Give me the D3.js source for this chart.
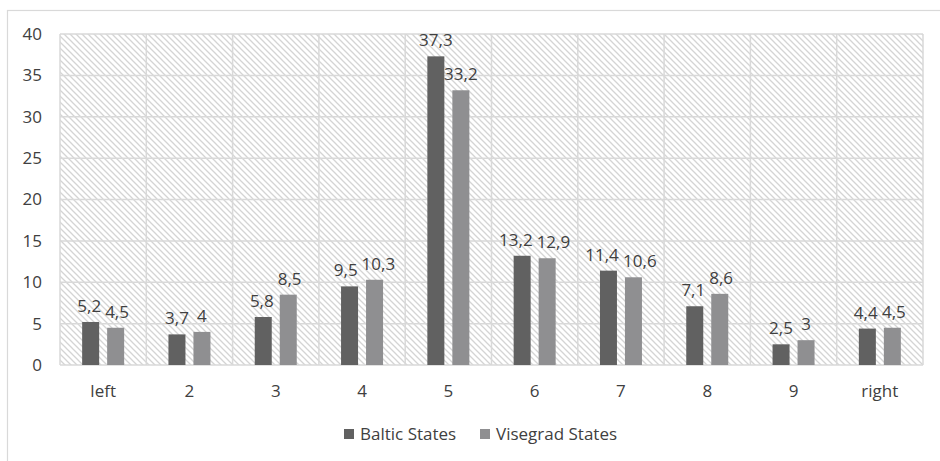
<!DOCTYPE html>
<html>
<head>
<meta charset="utf-8">
<script src="https://cdn.jsdelivr.net/npm/d3@7/dist/d3.min.js"></script>
<style>
  html, body { margin: 0; padding: 0; background: #fff; }
  svg { display: block; font-family: "Open Sans", "Noto Sans", sans-serif; }
</style>
</head>
<body>
<svg id="chart" width="940" height="461"></svg>
<script>
// Survey position categories (left-right scale)
const categories = ["left", "2", "3", "4", "5", "6", "7", "8", "9", "right"];
const seriesNames = ["Baltic States", "Visegrad States"];
const balticValues = [5.2, 3.7, 5.8, 9.5, 37.3, 13.2, 11.4, 7.1, 2.5, 4.4];
const visegradValues = [4.5, 4, 8.5, 10.3, 33.2, 12.9, 10.6, 8.6, 3, 4.5];
const yTicks = [0, 5, 10, 15, 20, 25, 30, 35, 40];

const colors = { "Baltic States": "#616161", "Visegrad States": "#8f8f91" };
const textColor = "#404040";
const gridColor = "#d9d9d9";
const fontSize = "17px";

const svg = d3.select("#chart");
const plot = { left: 60, right: 923, top: 34, bottom: 365 };

// outer chart frame (only top and left edges fall inside the canvas)
svg.append("rect")
  .attr("x", 7.5).attr("y", 10.5)
  .attr("width", 960).attr("height", 480)
  .attr("fill", "#fff")
  .attr("stroke", gridColor).attr("stroke-width", 1.2);

// hatch pattern for plot background
const defs = svg.append("defs");
const pat = defs.append("pattern")
  .attr("id", "hatch")
  .attr("patternUnits", "userSpaceOnUse")
  .attr("width", 6).attr("height", 6);
pat.append("rect").attr("width", 6).attr("height", 6).attr("fill", "#fff");
pat.append("path")
  .attr("d", "M-1,-1 L7,7 M-1,5 L1,7 M5,-1 L7,1")
  .attr("stroke", "#d4d4d4").attr("stroke-width", 1.3);

const x0 = d3.scaleBand()
  .domain(categories)
  .range([plot.left, plot.right])
  .paddingInner(0).paddingOuter(0);

const y = d3.scaleLinear()
  .domain([0, 40])
  .range([plot.bottom, plot.top]);

const x1 = d3.scaleBand()
  .domain(seriesNames)
  .range([x0.bandwidth() / 2 - 21, x0.bandwidth() / 2 + 21])
  .paddingInner(0.32).paddingOuter(0);

svg.append("rect")
  .attr("x", plot.left).attr("y", plot.top)
  .attr("width", plot.right - plot.left)
  .attr("height", plot.bottom - plot.top)
  .attr("fill", "url(#hatch)");

// gridlines
svg.append("g")
  .selectAll("line")
  .data(yTicks)
  .join("line")
  .attr("x1", plot.left).attr("x2", plot.right)
  .attr("y1", d => y(d)).attr("y2", d => y(d))
  .attr("stroke", gridColor).attr("stroke-width", 1.5);

const vEdges = categories.map(c => x0(c)).concat([plot.right]);
svg.append("g")
  .selectAll("line")
  .data(vEdges)
  .join("line")
  .attr("x1", d => d).attr("x2", d => d)
  .attr("y1", plot.top).attr("y2", plot.bottom)
  .attr("stroke", gridColor).attr("stroke-width", 1.5);

// y axis labels
const yAxis = d3.axisLeft(y).tickValues(yTicks).tickSize(0).tickPadding(18);
const gy = svg.append("g")
  .attr("transform", `translate(${plot.left},0)`)
  .call(yAxis);
gy.select(".domain").remove();
gy.selectAll("text")
  .attr("fill", textColor)
  .style("font-size", fontSize)
  .style("font-family", "'Open Sans', sans-serif");

// x axis labels
const xAxis = d3.axisBottom(x0).tickSize(0).tickPadding(20);
const gx = svg.append("g")
  .attr("transform", `translate(0,${plot.bottom})`)
  .call(xAxis);
gx.select(".domain").remove();
gx.selectAll("text")
  .attr("fill", textColor)
  .style("font-size", fontSize)
  .style("font-family", "'Open Sans', sans-serif");

// bars
const rows = categories.map((c, i) => ({
  category: c,
  values: [
    { series: seriesNames[0], value: balticValues[i] },
    { series: seriesNames[1], value: visegradValues[i] }
  ]
}));

const groups = svg.append("g")
  .selectAll("g")
  .data(rows)
  .join("g")
  .attr("transform", d => `translate(${x0(d.category)},0)`);

groups.selectAll("rect")
  .data(d => d.values)
  .join("rect")
  .attr("x", d => x1(d.series))
  .attr("width", x1.bandwidth())
  .attr("y", d => y(d.value))
  .attr("height", d => y(0) - y(d.value))
  .attr("fill", d => colors[d.series]);

// value labels above bars, with decimal comma
const fmt = v => String(v).replace(".", ",");
const labelGap = 4;
groups.each(function () {
  const g = d3.select(this);
  const labels = g.selectAll("text.val")
    .data(d => d.values)
    .join("text")
    .attr("class", "val")
    .attr("x", d => x1(d.series) + x1.bandwidth() / 2)
    .attr("y", d => y(d.value) - 10)
    .attr("text-anchor", "middle")
    .attr("fill", textColor)
    .style("font-size", fontSize)
    .text(d => fmt(d.value));
  // push the two labels apart when they sit too close side by side
  const nodes = labels.nodes();
  const a = nodes[0].getBBox(), b = nodes[1].getBBox();
  const overlap = (a.x + a.width + labelGap) - b.x;
  const vOverlap = Math.min(a.y + a.height, b.y + b.height) - Math.max(a.y, b.y);
  if (overlap > 0 && vOverlap > 0) {
    const shift = overlap / 2;
    d3.select(nodes[0]).attr("x", +d3.select(nodes[0]).attr("x") - shift);
    d3.select(nodes[1]).attr("x", +d3.select(nodes[1]).attr("x") + shift);
  }
});

// legend
const legend = svg.append("g").attr("transform", "translate(0,434)");
const legendItems = [
  { name: seriesNames[0], x: 344 },
  { name: seriesNames[1], x: 480 }
];
legendItems.forEach(it => {
  legend.append("rect")
    .attr("x", it.x).attr("y", -5)
    .attr("width", 10).attr("height", 10)
    .attr("fill", colors[it.name]);
  legend.append("text")
    .attr("x", it.x + 16).attr("y", 6)
    .attr("fill", textColor)
    .style("font-size", fontSize)
    .text(it.name);
});
</script>
</body>
</html>
